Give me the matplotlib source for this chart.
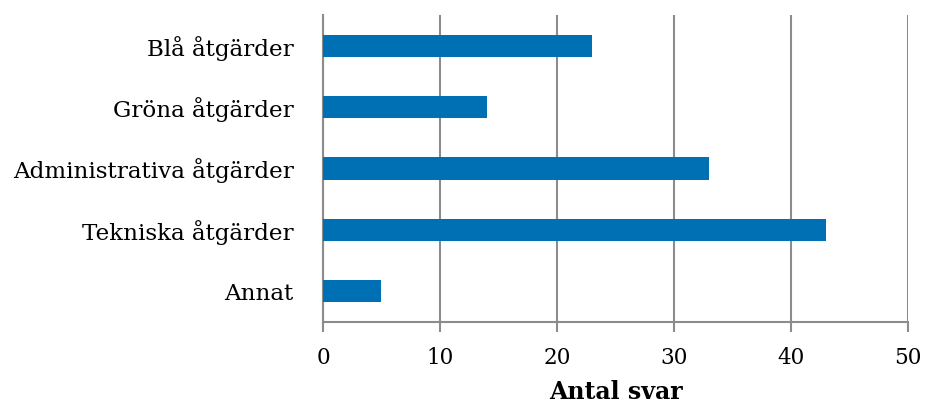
import matplotlib
matplotlib.use('Agg')
import matplotlib.pyplot as plt

categories = ['Blå åtgärder', 'Gröna åtgärder', 'Administrativa åtgärder',
              'Tekniska åtgärder', 'Annat']
values = [23, 14, 33, 43, 5]
xticks = [0, 10, 20, 30, 40, 50]

plt.rcParams['font.family'] = ['DejaVu Serif']

fig = plt.figure(figsize=(9.26, 4.03), dpi=100)
ax = fig.add_axes([0.3488, 0.201, 0.6318, 0.7618])

pos = list(range(len(categories)))
ax.barh(pos, values, height=0.36, color='#0070b4', zorder=3)
ax.set_ylim(len(categories) - 0.5, -0.5)
ax.set_yticks(pos)
ax.set_yticklabels(categories, fontsize=16.6)
ax.tick_params(axis='y', length=0, pad=21)

ax.set_xlim(0, 50)
ax.set_xticks(xticks)
ax.set_xticklabels([str(t) for t in xticks], fontsize=15.5)
ax.tick_params(axis='x', length=7, width=1.5, color='#8c8c8c', pad=11)
ax.grid(axis='x', color='#8c8c8c', lw=1.5, zorder=0)
ax.set_axisbelow(True)

for s in ['top', 'right']:
    ax.spines[s].set_visible(False)
for s in ['left', 'bottom']:
    ax.spines[s].set_color('#8c8c8c')
    ax.spines[s].set_linewidth(1.5)

ax.set_xlabel('Antal svar', fontsize=17, fontweight='bold', labelpad=8)

fig.savefig('out.png', dpi=100)
